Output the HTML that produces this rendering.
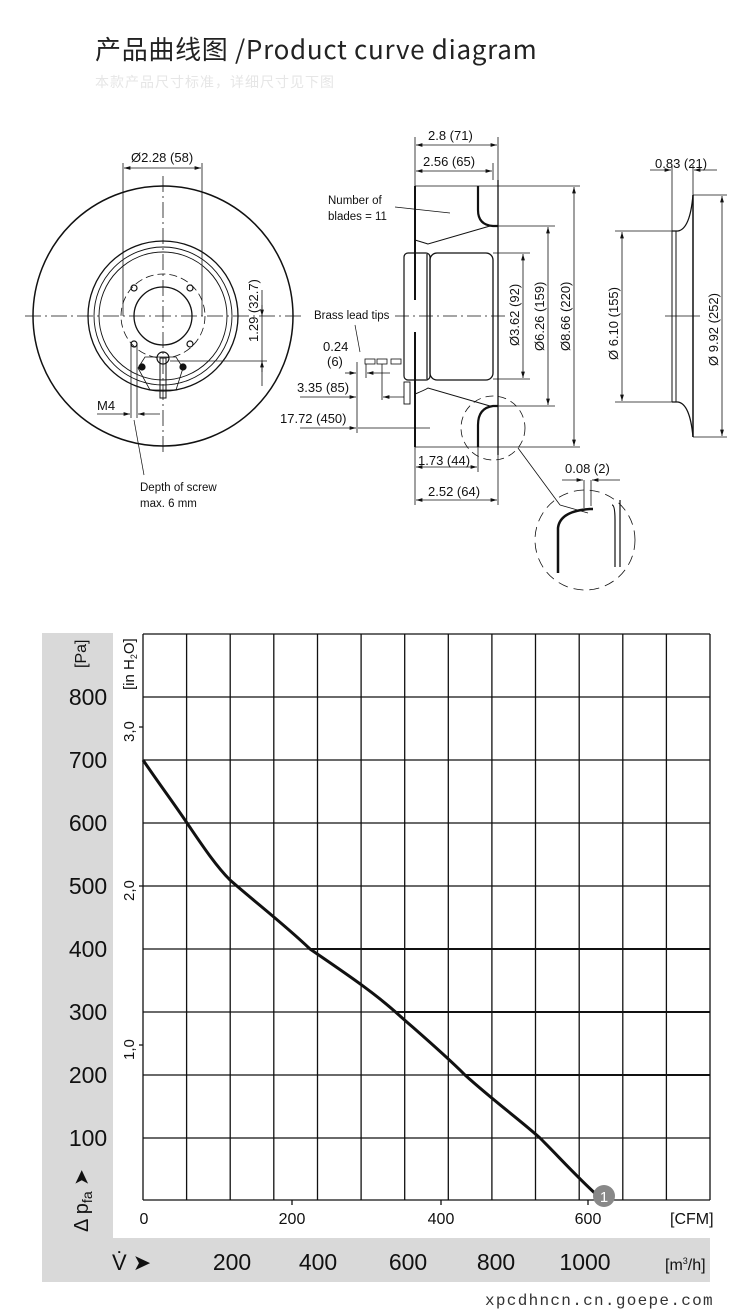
<!DOCTYPE html>
<html><head><meta charset="utf-8">
<style>
html,body{margin:0;padding:0;background:#fff;}
body{width:750px;height:1314px;position:relative;overflow:hidden;}
.t{position:absolute;white-space:nowrap;}
</style></head><body>
<div class="t" style="left:95px;top:30px;font:26px 'Noto Sans CJK SC',sans-serif;color:#222;letter-spacing:0.7px;">产品曲线图 /Product curve diagram</div>
<div class="t" style="left:95px;top:72px;font:14px 'Noto Sans CJK SC',sans-serif;color:#e6e6e6;letter-spacing:1px;">本款产品尺寸标准，详细尺寸见下图</div>

<svg width="750" height="1314" style="position:absolute;left:0;top:0" xmlns="http://www.w3.org/2000/svg">
<defs>
<marker id="ar" viewBox="0 0 10 6" refX="10" refY="3" markerWidth="8" markerHeight="5" orient="auto-start-reverse"><path d="M0,0 L10,3 L0,6z" fill="#111"/></marker>
</defs>
<g fill="none" stroke="#111" stroke-width="1.2">
<circle cx="163" cy="316" r="130" stroke-width="1.5"/>
<circle cx="163" cy="316" r="75" stroke-width="1.3"/>
<circle cx="163" cy="316" r="69" stroke-width="0.9"/>
<circle cx="163" cy="316" r="64" stroke-width="0.9"/>
<circle cx="163" cy="316" r="29" stroke-width="1.3"/>
<circle cx="163" cy="316" r="42" stroke-width="0.8" stroke-dasharray="8,4"/>
<line x1="25" y1="316" x2="305" y2="316" stroke-width="0.8" stroke-dasharray="16,4,2,4"/>
<line x1="163" y1="176" x2="163" y2="456" stroke-width="0.8" stroke-dasharray="16,4,2,4"/>
<circle cx="134" cy="288" r="3"/><circle cx="190" cy="288" r="3"/><circle cx="134" cy="344" r="3"/><circle cx="190" cy="344" r="3"/>
<path d="M138,368 L145,357 L176,357 L183,368 L176,390 L150,390 Z" stroke-width="0.8"/>
<circle cx="163" cy="358" r="6"/>
<rect x="160" y="358" width="6" height="40" stroke-width="1"/>
<circle cx="142" cy="367" r="3" fill="#111"/><circle cx="183" cy="367" r="3" fill="#111"/>
<line x1="123" y1="163" x2="123" y2="316" stroke-width="0.8"/>
<line x1="202" y1="163" x2="202" y2="316" stroke-width="0.8"/>
<line x1="124" y1="168" x2="201" y2="168" stroke-width="0.8" marker-start="url(#ar)" marker-end="url(#ar)"/>
<line x1="170" y1="361" x2="267" y2="361" stroke-width="0.8"/>
<line x1="262" y1="290" x2="262" y2="386" stroke-width="0.8"/>
<line x1="262" y1="305" x2="262" y2="316" stroke-width="0.8" marker-end="url(#ar)"/>
<line x1="262" y1="372" x2="262" y2="361" stroke-width="0.8" marker-end="url(#ar)"/>
<line x1="131" y1="344" x2="131" y2="418" stroke-width="0.8"/>
<line x1="137" y1="344" x2="137" y2="418" stroke-width="0.8"/>
<line x1="97" y1="414" x2="130" y2="414" stroke-width="0.8" marker-end="url(#ar)"/>
<line x1="160" y1="414" x2="138" y2="414" stroke-width="0.8" marker-end="url(#ar)"/>
<line x1="134" y1="420" x2="144" y2="475" stroke-width="0.7"/>
<path d="M415,186 L415,300 M415,332 L415,447" stroke-width="2"/>
<path d="M478,186 L478,210 Q478,225 493,226 L498,226" stroke-width="2.2"/>
<path d="M478,447 L478,425 Q478,408 493,406 L498,406" stroke-width="2.2"/>
<line x1="498" y1="180" x2="498" y2="455" stroke-width="1.3"/>
<path d="M415,240 Q425,243 428,244 L490,226" stroke-width="1"/>
<path d="M415,394 Q425,390 428,388 L490,406" stroke-width="1"/>
<rect x="404" y="253" width="26" height="127" rx="4" stroke-width="1.2"/>
<line x1="427" y1="254" x2="427" y2="379"/>
<rect x="430" y="253" width="63" height="127" rx="7" stroke-width="1.3"/>
<rect x="404" y="382" width="6" height="22" stroke-width="0.9"/>
<line x1="395" y1="316" x2="505" y2="316" stroke-width="0.7" stroke-dasharray="14,4,2,4"/>
<line x1="415" y1="137" x2="415" y2="186" stroke-width="0.8"/>
<line x1="498" y1="137" x2="498" y2="180" stroke-width="0.8"/>
<line x1="493" y1="163" x2="493" y2="180" stroke-width="0.8"/>
<line x1="416" y1="145" x2="497" y2="145" stroke-width="0.8" marker-start="url(#ar)" marker-end="url(#ar)"/>
<line x1="416" y1="171" x2="492" y2="171" stroke-width="0.8" marker-start="url(#ar)" marker-end="url(#ar)"/>
<line x1="493" y1="253" x2="530" y2="253" stroke-width="0.7"/>
<line x1="493" y1="379" x2="530" y2="379" stroke-width="0.7"/>
<line x1="523" y1="254" x2="523" y2="378" stroke-width="0.8" marker-start="url(#ar)" marker-end="url(#ar)"/>
<line x1="498" y1="226" x2="555" y2="226" stroke-width="0.7"/>
<line x1="498" y1="406" x2="555" y2="406" stroke-width="0.7"/>
<line x1="548" y1="227" x2="548" y2="405" stroke-width="0.8" marker-start="url(#ar)" marker-end="url(#ar)"/>
<line x1="415" y1="186" x2="580" y2="186" stroke-width="0.7"/>
<line x1="415" y1="447" x2="580" y2="447" stroke-width="0.7"/>
<line x1="574" y1="187" x2="574" y2="446" stroke-width="0.8" marker-start="url(#ar)" marker-end="url(#ar)"/>
<line x1="415" y1="447" x2="415" y2="505" stroke-width="0.8"/>
<line x1="478" y1="447" x2="478" y2="472" stroke-width="0.8"/>
<line x1="498" y1="455" x2="498" y2="505" stroke-width="0.8"/>
<line x1="416" y1="467" x2="477" y2="467" stroke-width="0.8" marker-start="url(#ar)" marker-end="url(#ar)"/>
<line x1="416" y1="500" x2="497" y2="500" stroke-width="0.8" marker-start="url(#ar)" marker-end="url(#ar)"/>
<rect x="365" y="359" width="10" height="5" stroke-width="0.8"/><rect x="377" y="359" width="10" height="5" stroke-width="0.8"/><rect x="391" y="359" width="10" height="5" stroke-width="0.8"/>
<line x1="357" y1="362" x2="357" y2="433" stroke-width="0.8"/>
<line x1="366" y1="364" x2="366" y2="378" stroke-width="0.8"/>
<line x1="382" y1="364" x2="382" y2="400" stroke-width="0.8"/>
<line x1="345" y1="373" x2="356" y2="373" stroke-width="0.8" marker-end="url(#ar)"/>
<line x1="390" y1="373" x2="367" y2="373" stroke-width="0.8" marker-end="url(#ar)"/>
<line x1="300" y1="397" x2="356" y2="397" stroke-width="0.8" marker-end="url(#ar)"/>
<line x1="404" y1="397" x2="383" y2="397" stroke-width="0.8" marker-end="url(#ar)"/>
<line x1="300" y1="428" x2="356" y2="428" stroke-width="0.8" marker-end="url(#ar)"/>
<line x1="358" y1="428" x2="430" y2="428" stroke-width="0.8"/>
<line x1="355" y1="325" x2="360" y2="352" stroke-width="0.7"/>
<line x1="395" y1="207" x2="450" y2="213" stroke-width="0.7"/>
<circle cx="493" cy="428" r="32" stroke-width="0.8" stroke-dasharray="8,5"/>
<line x1="518" y1="448" x2="560" y2="505" stroke-width="0.8"/>
<line x1="560" y1="505" x2="588" y2="513" stroke-width="0.8"/>
<circle cx="585" cy="540" r="50" stroke-width="0.8" stroke-dasharray="10,6"/>
<path d="M558,573 L558,528 Q560,511 590,509 L593,509" stroke-width="2.5"/>
<path d="M612,505 Q615,505 615,520 L615,567" stroke-width="1.2"/>
<line x1="620" y1="500" x2="620" y2="567" stroke-width="1.2"/>
<line x1="584" y1="480" x2="584" y2="508" stroke-width="0.8"/>
<line x1="591" y1="480" x2="591" y2="506" stroke-width="0.8"/>
<line x1="562" y1="480" x2="583" y2="480" stroke-width="0.8" marker-end="url(#ar)"/>
<line x1="620" y1="480" x2="592" y2="480" stroke-width="0.8" marker-end="url(#ar)"/>
<path d="M672,231 L672,402 M676,231 L676,402" stroke-width="1"/>
<path d="M672,231 L678,231 Q690,229 693,195 M672,402 L678,402 Q690,404 693,437" stroke-width="1.3"/>
<line x1="693" y1="195" x2="693" y2="437" stroke-width="1.5"/>
<line x1="672" y1="165" x2="672" y2="231" stroke-width="0.8"/>
<line x1="693" y1="165" x2="693" y2="195" stroke-width="0.8"/>
<line x1="650" y1="170" x2="671" y2="170" stroke-width="0.8" marker-end="url(#ar)"/>
<line x1="717" y1="170" x2="694" y2="170" stroke-width="0.8" marker-end="url(#ar)"/>
<line x1="615" y1="231" x2="672" y2="231" stroke-width="0.7"/>
<line x1="615" y1="402" x2="672" y2="402" stroke-width="0.7"/>
<line x1="622" y1="232" x2="622" y2="401" stroke-width="0.8" marker-start="url(#ar)" marker-end="url(#ar)"/>
<line x1="693" y1="195" x2="727" y2="195" stroke-width="0.7"/>
<line x1="693" y1="437" x2="727" y2="437" stroke-width="0.7"/>
<line x1="722" y1="196" x2="722" y2="436" stroke-width="0.8" marker-start="url(#ar)" marker-end="url(#ar)"/>
<line x1="665" y1="316" x2="700" y2="316" stroke-width="0.7"/>
</g>
<g font-family="'Liberation Sans',sans-serif" font-size="13" fill="#111">
<text x="131" y="162">Ø2.28 (58)</text>
<text x="258" y="342" transform="rotate(-90 258 342)">1.29 (32.7)</text>
<text x="97" y="410">M4</text>
<text x="140" y="491" font-size="11.5">Depth of screw</text>
<text x="140" y="507" font-size="11.5">max. 6 mm</text>
<text x="428" y="140">2.8 (71)</text>
<text x="423" y="166">2.56 (65)</text>
<text x="328" y="204" font-size="11.5">Number of</text>
<text x="328" y="220" font-size="11.5">blades = 11</text>
<text x="314" y="319" font-size="11.5">Brass lead tips</text>
<text x="323" y="351">0.24</text>
<text x="327" y="366">(6)</text>
<text x="297" y="392">3.35 (85)</text>
<text x="280" y="423">17.72 (450)</text>
<text x="519" y="346" transform="rotate(-90 519 346)">Ø3.62 (92)</text>
<text x="544" y="351" transform="rotate(-90 544 351)">Ø6.26 (159)</text>
<text x="570" y="351" transform="rotate(-90 570 351)">Ø8.66 (220)</text>
<text x="418" y="465">1.73 (44)</text>
<text x="428" y="496">2.52 (64)</text>
<text x="565" y="473">0.08 (2)</text>
<text x="655" y="168">0.83 (21)</text>
<text x="618" y="360" transform="rotate(-90 618 360)">Ø 6.10 (155)</text>
<text x="718" y="366" transform="rotate(-90 718 366)">Ø 9.92 (252)</text>
</g>

<rect x="42" y="633" width="71" height="649" fill="#d9d9d9"/>
<rect x="42" y="1238" width="668" height="44" fill="#d9d9d9"/>
<g stroke="#111" stroke-width="1.3" fill="none">
<path d="M143,634H710M143,697H710M143,760H710M143,823H710M143,886H710M143,949H710M143,1012H710M143,1075H710M143,1138H710M143,1200H710"/>
<path d="M143,634V1200M186.6,634V1200M230.2,634V1200M273.8,634V1200M317.5,634V1200M361.1,634V1200M404.7,634V1200M448.3,634V1200M491.9,634V1200M535.5,634V1200M579.2,634V1200M622.8,634V1200M666.4,634V1200M710,634V1200"/>
<path d="M310,949H710M395,1012H710M465,1075H710" stroke-width="2"/>
<path d="M139,727H143M139,886H143M139,1045H143" />
<path d="M143,760 C160,785 175,805 187,823 C200,842 215,865 230,880 C255,902 285,925 310,949 C345,973 375,993 400,1016 C425,1038 445,1055 465,1075 C495,1102 520,1120 540,1138 C560,1158 578,1178 598,1196" stroke-width="3"/>
<path d="M292,1200v5M441,1200v5M588,1200v5"/>
</g>
<circle cx="604" cy="1196" r="11" fill="#888"/>
<text x="604" y="1202" font-family="'Liberation Sans',sans-serif" font-size="15" fill="#fff" text-anchor="middle">1</text>
<g font-family="'Liberation Sans',sans-serif" fill="#111">
<g font-size="23" text-anchor="middle">
<text x="88" y="705">800</text><text x="88" y="768">700</text><text x="88" y="831">600</text><text x="88" y="894">500</text><text x="88" y="957">400</text><text x="88" y="1020">300</text><text x="88" y="1083">200</text><text x="88" y="1146">100</text>
</g>
<text x="86" y="668" font-size="16" transform="rotate(-90 86 668)">[Pa]</text>
<text x="134" y="690" font-size="15" transform="rotate(-90 134 690)">[in H<tspan font-size="9" dy="3">2</tspan><tspan dy="-3">O]</tspan></text>
<g font-size="15">
<text x="134" y="742" transform="rotate(-90 134 742)">3,0</text>
<text x="134" y="901" transform="rotate(-90 134 901)">2,0</text>
<text x="134" y="1060" transform="rotate(-90 134 1060)">1,0</text>
</g>
<text x="88" y="1232" font-size="20" transform="rotate(-90 88 1232)">Δ p<tspan font-size="14" dy="4">fa</tspan><tspan dy="-4"> ➤</tspan></text>
<g font-size="16" text-anchor="middle">
<text x="144" y="1224">0</text><text x="292" y="1224">200</text><text x="441" y="1224">400</text><text x="588" y="1224">600</text>
</g>
<text x="670" y="1224" font-size="16">[CFM]</text>
<text x="112" y="1270" font-size="22">V̇ ➤</text>
<g font-size="23" text-anchor="middle">
<text x="232" y="1270">200</text><text x="318" y="1270">400</text><text x="408" y="1270">600</text><text x="496" y="1270">800</text><text x="585" y="1270">1000</text>
</g>
<text x="665" y="1270" font-size="16">[m<tspan font-size="9" dy="-6">3</tspan><tspan dy="6">/h]</tspan></text>
</g>
<text x="485" y="1305" font-family="'Liberation Mono',monospace" font-size="16" letter-spacing="1.3" fill="#333">xpcdhncn.cn.goepe.com</text>
</svg>
</body></html>
